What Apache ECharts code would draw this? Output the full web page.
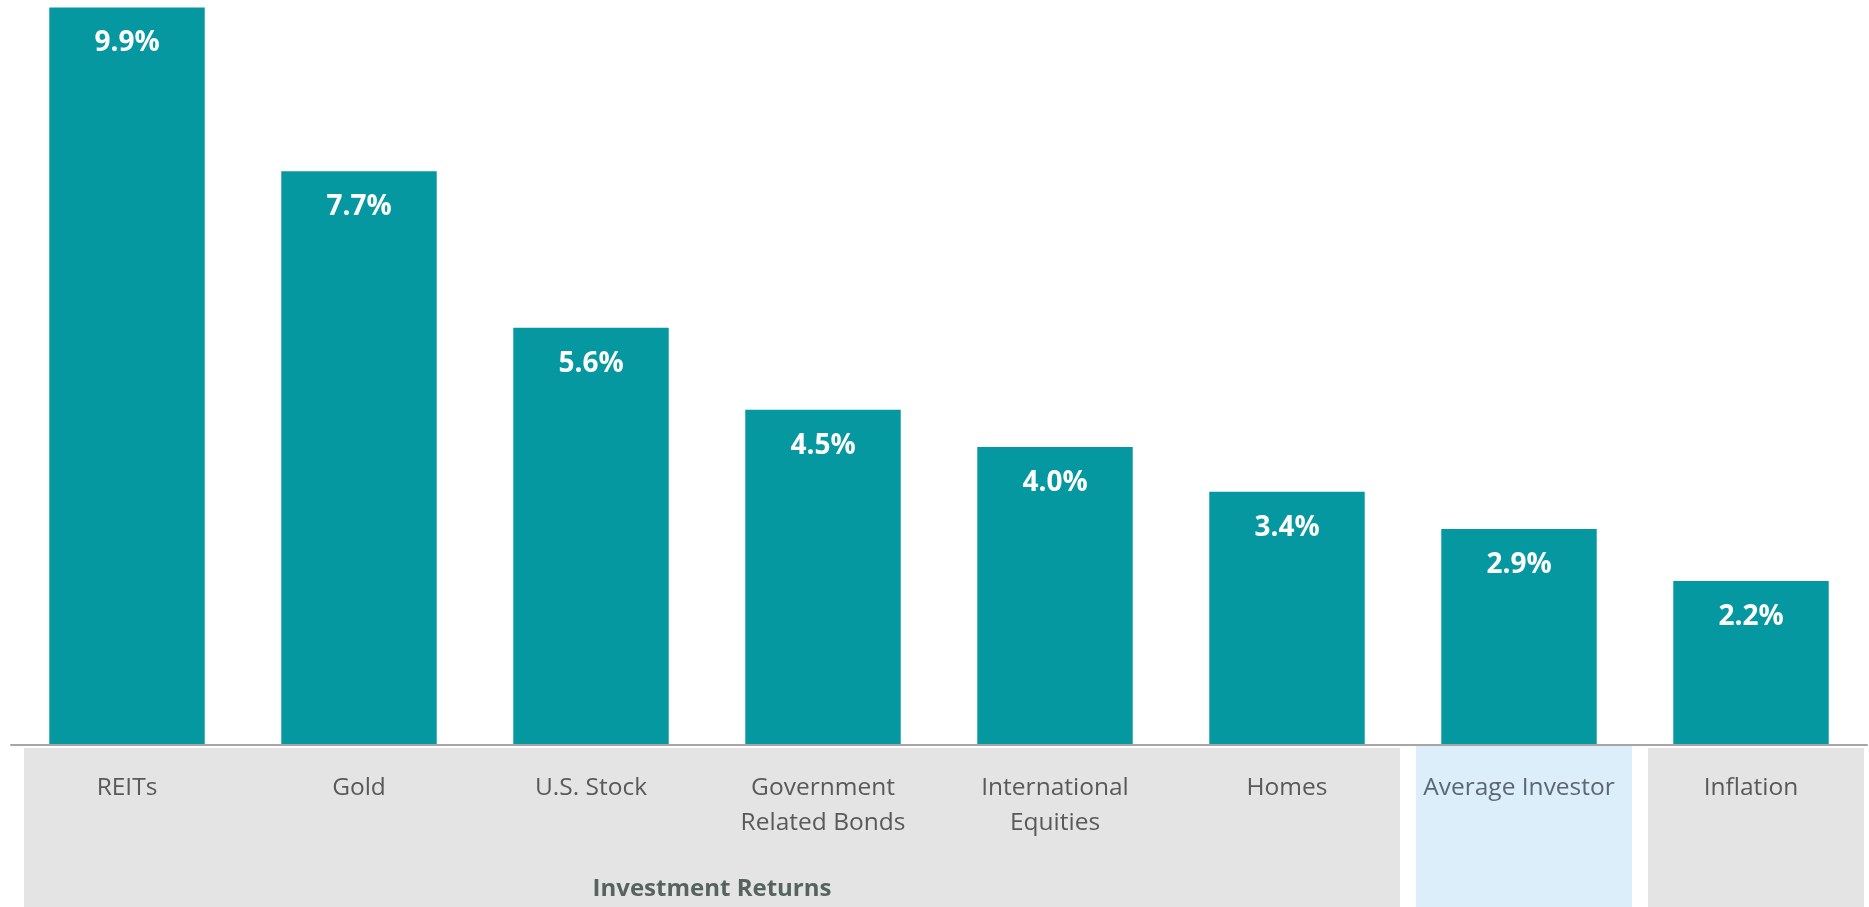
<!DOCTYPE html>
<html>
<head>
<meta charset="utf-8">
<script src="https://cdn.jsdelivr.net/npm/echarts@6/dist/echarts.min.js"></script>
<style>
html,body{margin:0;padding:0;background:#fff;}
#main{width:1869px;height:907px;}
</style>
</head>
<body>
<div id="main"></div>
<script>
const categories = ['REITs', 'Gold', 'U.S. Stock', 'Government\nRelated Bonds', 'International\nEquities', 'Homes', 'Average Investor', 'Inflation'];
const values = [9.9, 7.7, 5.6, 4.5, 4.0, 3.4, 2.9, 2.2];
const groupTitle = 'Investment Returns';
const highlightCategory = 'Average Investor';

const chart = echarts.init(document.getElementById('main'));
const FONT = '"Open Sans", "Noto Sans", sans-serif';

chart.setOption({
  animation: false,
  grid: { left: 11, right: 2, top: 0, bottom: 162, containLabel: false },
  xAxis: {
    type: 'category',
    data: categories,
    axisLine: { lineStyle: { color: '#A6A6A6', width: 2 } },
    axisTick: { show: false },
    z: 5,
    axisLabel: {
      margin: 26,
      interval: 0,
      formatter: function (v) {
        const st = v === highlightCategory ? 'h' : 'n';
        return v.split('\n').map(s => '{' + st + '|' + s + '}').join('\n');
      },
      rich: {
        n: { fontFamily: FONT, fontSize: 24.5, color: '#595959', lineHeight: 35 },
        h: { fontFamily: FONT, fontSize: 24.5, color: '#5B6872', lineHeight: 35 }
      }
    }
  },
  yAxis: { type: 'value', min: 0, max: 10, show: false, splitLine: { show: false } },
  series: [{
    type: 'bar',
    data: values,
    barCategoryGap: '33%',
    itemStyle: { color: '#0698A0' },
    label: {
      show: true,
      position: 'insideTop',
      distance: 22,
      formatter: p => p.value.toFixed(1) + '%',
      color: '#ffffff',
      fontFamily: FONT,
      fontWeight: 'bold',
      fontSize: 28
    }
  }]
});

function drawBoxes() {
  const c0 = chart.convertToPixel({ xAxisIndex: 0 }, 0);
  const c1 = chart.convertToPixel({ xAxisIndex: 0 }, 1);
  const band = c1 - c0;
  const edge = i => chart.convertToPixel({ xAxisIndex: 0 }, i) - band / 2;
  const axisY = chart.convertToPixel({ yAxisIndex: 0 }, 0);
  const H = 907;
  const groups = [
    { from: 0, to: 5, color: '#E4E4E4', top: axisY + 3 },
    { from: 6, to: 6, color: '#DCEEF9', top: axisY },
    { from: 7, to: 7, color: '#E4E4E4', top: axisY + 3 }
  ];
  const els = groups.map(g => {
    const x0 = edge(g.from) + 13;
    const x1 = edge(g.to) + band - 3;
    return { type: 'rect', z: -10, silent: true,
      shape: { x: x0, y: g.top, width: x1 - x0, height: H - g.top },
      style: { fill: g.color } };
  });
  const gx0 = edge(0) + 13, gx1 = edge(5) + band - 3;
  els.push({ type: 'text', z: 10, silent: true,
    x: (gx0 + gx1) / 2, y: 889,
    style: { text: groupTitle, fontFamily: FONT, fontWeight: 'bold', fontSize: 24, 
      fill: '#56635F', align: 'center', verticalAlign: 'middle' } });
  chart.setOption({ graphic: { elements: els } });
}
drawBoxes();
</script>
</body>
</html>
